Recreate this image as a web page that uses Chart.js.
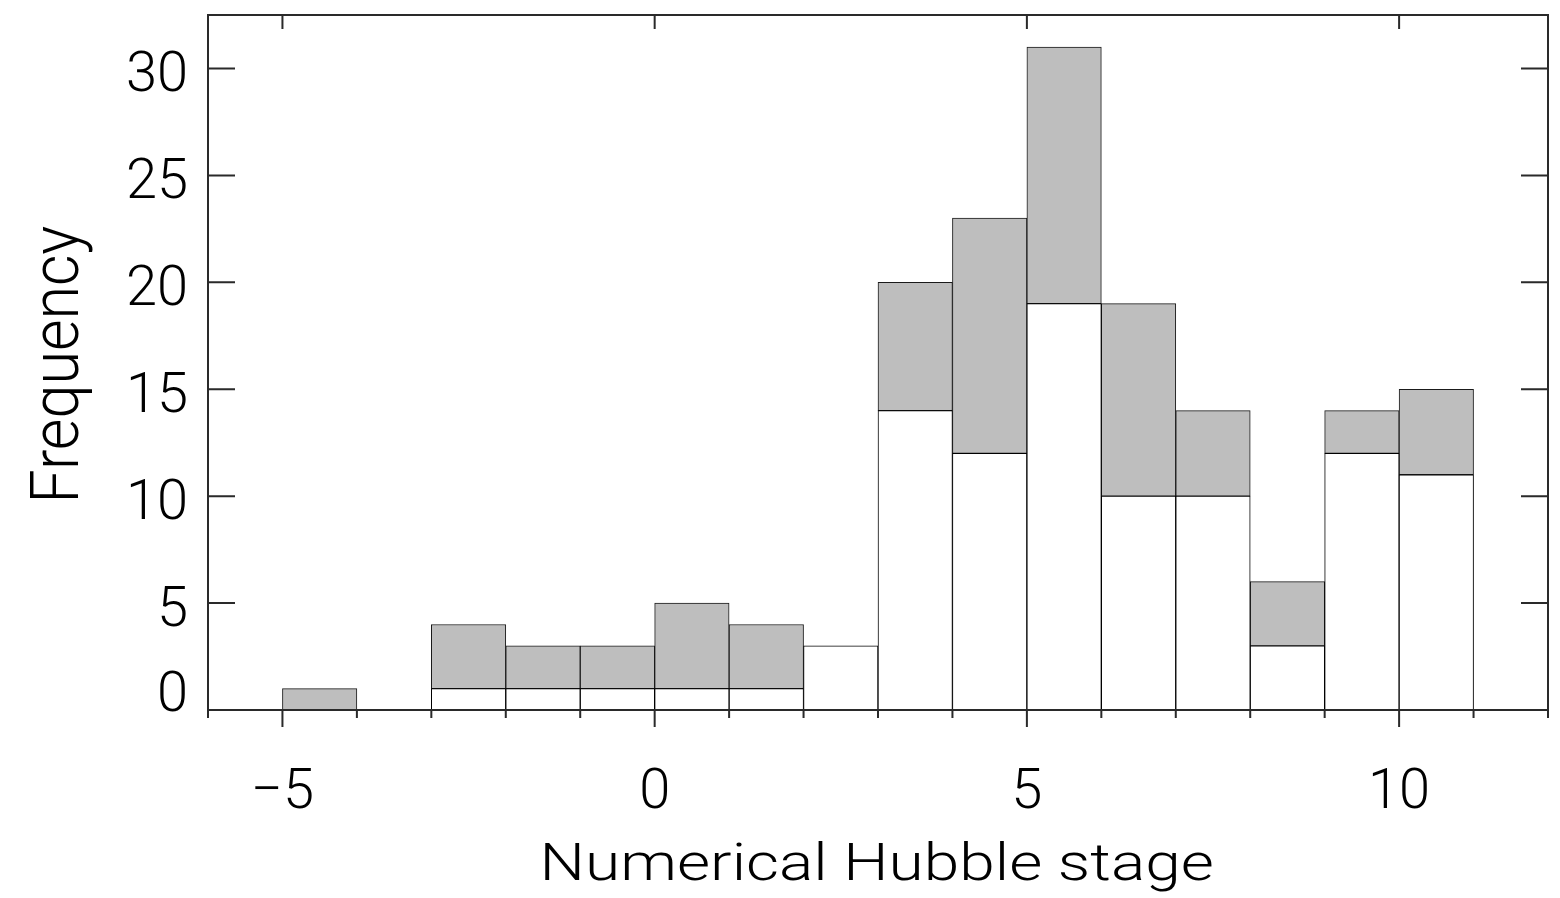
<!DOCTYPE html>
<html>
<head>
<meta charset="utf-8">
<script src="https://cdn.jsdelivr.net/npm/chart.js@4"></script>
<style>
  html, body { margin: 0; padding: 0; background: #fff; }
  #wrap { width: 1560px; height: 898px; }
</style>
</head>
<body>
<div id="wrap"><canvas id="myChart"></canvas></div>
<script>
// Bin centres (numerical Hubble stage T), one bin per unit
const stages = [-4.5, -3.5, -2.5, -1.5, -0.5, 0.5, 1.5, 2.5, 3.5, 4.5, 5.5, 6.5, 7.5, 8.5, 9.5, 10.5];
// lower (white) part and upper (grey) part of each stacked bar
const whiteCounts = [0, 0, 1, 1, 1, 1, 1, 3, 14, 12, 19, 10, 10, 3, 12, 11];
const greyCounts = [1, 0, 3, 2, 2, 4, 3, 0, 6, 11, 12, 9, 4, 3, 2, 4];

const yTicks = [0, 5, 10, 15, 20, 25, 30];
const xMajorTicks = [-5, 0, 5, 10];
const xMinorTicks = [-6, -5, -4, -3, -2, -1, 0, 1, 2, 3, 4, 5, 6, 7, 8, 9, 10, 11, 12];
const xLabels = ['\u22125', '0', '5', '10'];

const FONT = 'Roboto';

function drawText(ctx, text, x, y, size, width, angle) {
  ctx.save();
  ctx.translate(x, y);
  ctx.rotate(angle);
  ctx.font = '300 ' + size + 'px ' + FONT;
  ctx.textAlign = 'left';
  ctx.textBaseline = 'alphabetic';
  const m = ctx.measureText(text);
  const ink = m.actualBoundingBoxLeft + m.actualBoundingBoxRight;
  const sx = width ? width / ink : 1;
  ctx.scale(sx, 1);
  ctx.fillText(text, -(m.actualBoundingBoxRight - m.actualBoundingBoxLeft) / 2, 0);
  ctx.restore();
}

// frame, IDL-style ticks and all the texts
const idlAxes = {
  id: 'idlAxes',
  afterDatasetsDraw(chart) {
    const { ctx, chartArea: a, scales: { x, y } } = chart;
    ctx.save();
    ctx.strokeStyle = '#2a2a2a';
    ctx.lineWidth = 2;
    ctx.beginPath();
    ctx.rect(a.left, a.top, a.right - a.left, a.bottom - a.top);

    yTicks.forEach(v => {
      const py = y.getPixelForValue(v);
      ctx.moveTo(a.left, py); ctx.lineTo(a.left + 27, py);
      ctx.moveTo(a.right, py); ctx.lineTo(a.right - 27, py);
    });
    xMinorTicks.forEach(v => {
      const px = x.getPixelForValue(v);
      ctx.moveTo(px, a.bottom); ctx.lineTo(px, a.bottom + 8);
    });
    xMajorTicks.forEach(v => {
      const px = x.getPixelForValue(v);
      ctx.moveTo(px, a.bottom); ctx.lineTo(px, a.bottom + 17);
      ctx.moveTo(px, a.top); ctx.lineTo(px, a.top + 14);
    });
    ctx.stroke();
    ctx.restore();
  },
  afterDraw(chart) {
    const { ctx, chartArea: a, scales: { x, y } } = chart;
    ctx.save();
    ctx.fillStyle = '#000';
    ctx.font = '300 56px ' + FONT;
    ctx.textAlign = 'right';
    ctx.textBaseline = 'alphabetic';
    yTicks.forEach(v => {
      const py = y.getPixelForValue(v);
      ctx.fillText(String(v), a.left - 20, v === 0 ? py + 1 : py + 23);
    });
    ctx.textAlign = 'center';
    xMajorTicks.forEach((v, i) => {
      ctx.fillText(xLabels[i], x.getPixelForValue(v), 808);
    });
    ctx.restore();

    drawText(ctx, 'Numerical Hubble stage', (a.left + a.right) / 2, 880, 52, 667, 0);
    drawText(ctx, 'Frequency', 78, (a.top + a.bottom) / 2, 66, 273, -Math.PI / 2);
  }
};

document.addEventListener('DOMContentLoaded', function () {
  const ctx = document.getElementById('myChart').getContext('2d');

  const toPoints = arr => arr.map((v, i) => ({ x: stages[i], y: v }));

  new Chart(ctx, {
    type: 'bar',
    data: {
      datasets: [{
        label: 'white',
        data: toPoints(whiteCounts),
        backgroundColor: '#ffffff',
        borderColor: '#000000',
        borderWidth: 1,
        borderSkipped: false
      }, {
        label: 'grey',
        data: toPoints(greyCounts),
        backgroundColor: '#bebebe',
        borderColor: '#1a1a1a',
        borderWidth: 1,
        borderSkipped: false
      }]
    },
    options: {
      responsive: true,
      maintainAspectRatio: false,
      animation: false,
      datasets: { bar: { barPercentage: 1, categoryPercentage: 1 } },
      layout: { padding: { top: 15, right: 12, left: 0, bottom: 0 } },
      plugins: { legend: { display: false }, tooltip: { enabled: false } },
      scales: {
        x: {
          type: 'linear',
          stacked: true,
          offset: false,
          min: -6,
          max: 12,
          ticks: { display: false, stepSize: 1 },
          grid: { display: false, offset: false },
          border: { display: false },
          afterFit(s) { s.height = 188; }
        },
        y: {
          stacked: true,
          min: 0,
          max: 32.5,
          ticks: { display: false },
          grid: { display: false },
          border: { display: false },
          afterFit(s) { s.width = 208; }
        }
      }
    },
    plugins: [idlAxes]
  });
});
</script>
</body>
</html>
